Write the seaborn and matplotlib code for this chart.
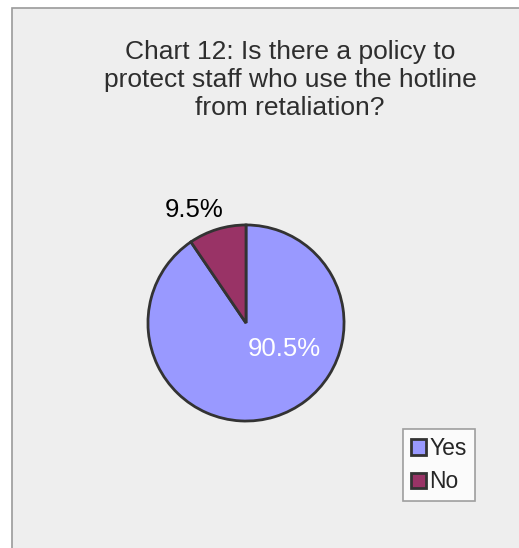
import matplotlib
matplotlib.use("Agg")
import matplotlib.pyplot as plt
from matplotlib.patches import Rectangle
import seaborn as sns

# Survey answers
categories = ["Yes", "No"]
shares = [90.5, 9.5]
slice_colors = ["#9999ff", "#993366"]
title_text = "Chart 12: Is there a policy to\nprotect staff who use the hotline\nfrom retaliation?"

sns.set_style("white")
plt.rcParams["font.family"] = ["Liberation Sans", "DejaVu Sans"]

W, H = 519, 548
fig = plt.figure(figsize=(W / 100, H / 100), dpi=100)
fig.patch.set_facecolor("white")

# gray chart area with thin border on top and left
fig.patches.append(Rectangle((12 / W, -0.1), 1.2, 1.1 - 8 / H, transform=fig.transFigure,
                             facecolor="#eeeeee", edgecolor="#9a9a9a", linewidth=1.2,
                             zorder=-5))

fig.text(290 / W, 1 - 40 / H, title_text, ha="center", va="top", fontsize=19,
         color="#2e2e2e", linespacing=1.22)

cx, cy, r = 246, 323, 100
ax = fig.add_axes([(cx - r) / W, (H - cy - r) / H, 2 * r / W, 2 * r / H])
ax.set_facecolor("none")
ax.set_zorder(2)

palette = sns.color_palette(slice_colors)
wedges, texts, autotexts = ax.pie(
    shares, colors=palette, startangle=90, counterclock=False,
    autopct=lambda p: f"{p:.1f}%", pctdistance=0.6,
    wedgeprops=dict(edgecolor="#333333", linewidth=2),
    textprops=dict(fontsize=18.5),
)
ax.set_xlim(-1.02, 1.02)
ax.set_ylim(-1.02, 1.02)

# label placement
autotexts[0].set_position((0.39, -0.27))
autotexts[0].set_color("white")
autotexts[1].set_position((-0.53, 1.15))
autotexts[1].set_color("black")

leg = fig.legend(wedges, categories, loc="upper left",
                 bbox_to_anchor=(403 / W, 1 - 429 / H), fontsize=16.5,
                 frameon=True, fancybox=False, edgecolor="#888888",
                 handlelength=0.65, handleheight=0.65, handletextpad=0.15,
                 borderpad=0.35, labelspacing=0.45, borderaxespad=0)
leg.get_frame().set_linewidth(1.2)
leg.set_zorder(3)
for h in leg.legend_handles:
    h.set_linewidth(2)

fig.savefig("out.png", dpi=100, facecolor=fig.get_facecolor())
